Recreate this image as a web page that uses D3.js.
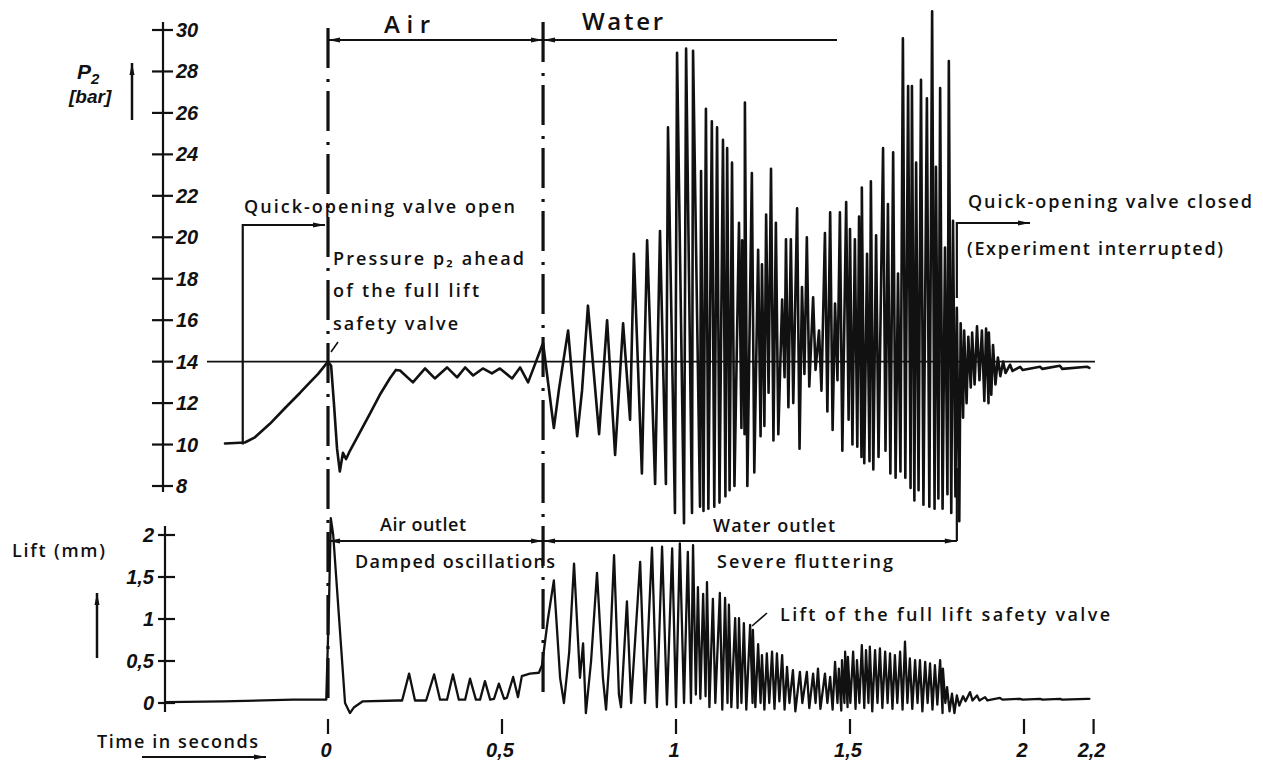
<!DOCTYPE html>
<html>
<head>
<meta charset="utf-8">
<script src="https://cdn.jsdelivr.net/npm/d3@7"></script>
<style>
  body { margin: 0; background: #fff; }
  svg { display: block; }
  .lbl { font-family: "Open Sans", "DejaVu Sans", sans-serif; font-weight: 600; font-size: 18px; fill: #111; }
  .num { font-family: "Liberation Sans", sans-serif; font-style: italic; font-weight: bold; font-size: 20px; fill: #111; }
</style>
</head>
<body>
<div id="chart"></div>
<script>
// time axis (seconds)
const timeTicks = [0, 0.5, 1, 1.5, 2, 2.2];
const timeTickLabels = ["0", "0,5", "1", "1,5", "2", "2,2"];
const pressureTicks = [8, 10, 12, 14, 16, 18, 20, 22, 24, 26, 28, 30];
const liftTicks = [0, 0.5, 1, 1.5, 2];
const liftTickLabels = ["0", "0,5", "1", "1,5", "2"];

const airStart = 0, waterStart = 0.618, waterEnd = 1.807, openTime = -0.245;
const setPressure = 14;

// pressure p2 [bar], slow part: [t, p]
const pressureLead = [
  [-0.296,10.05],[-0.239,10.1],[-0.210,10.35],[-0.167,11.0],[-0.124,11.75],[-0.080,12.5],
  [-0.052,13.0],[-0.029,13.4],[0,14.0],[0.009,13.8],[0.017,12.0],[0.026,9.8],[0.034,8.7],
  [0.043,9.6],[0.052,9.3],[0.063,9.7],[0.092,10.6],[0.121,11.5],[0.149,12.4],[0.178,13.2],
  [0.195,13.6],[0.207,13.57],[0.244,13.0],[0.279,13.67],[0.307,13.19],[0.342,13.72],
  [0.371,13.24],[0.394,13.72],[0.417,13.33],[0.445,13.67],[0.471,13.43],[0.494,13.67],
  [0.529,13.19],[0.552,13.72],[0.575,13.0],[0.618,14.9],[0.649,10.8],[0.664,12.7],
  [0.690,15.5],[0.716,10.4],[0.730,12.6],[0.747,16.7],[0.779,10.5],[0.802,16.0],[0.825,9.5],
  [0.848,15.85],[0.868,11.2],[0.879,19.2],[0.902,8.6],[0.917,19.85],[0.940,8.1],[0.954,20.3],
  [0.971,8.1],[0.977,25.3],[0.997,6.7],[1.003,28.9],[1.023,6.2],[1.029,29.1],[1.046,6.7],
  [1.049,29.0],[1.069,7.0]
];
// pressure p2, fluttering part: [t, high, low]
const pressureStrokes = [
  [1.072,23.2,6.8],[1.086,26.2,6.9],[1.103,25.6,7.0],[1.118,25.3,7.2],[1.135,24.7,7.5],
  [1.147,24.3,7.8],[1.161,23.6,8.0],[1.181,20.7,10.8],[1.190,19.85,10.5],[1.198,26.5,8.0],
  [1.218,23.1,8.65],[1.236,19.4,10.4],[1.247,18.7,10.9],[1.259,21.1,12.5],[1.273,23.3,10.2],
  [1.287,20.7,10.5],[1.305,17.0,13.25],[1.316,19.9,11.8],[1.330,19.9,12.0],[1.348,21.4,9.8],
  [1.362,17.6,13.4],[1.376,20.0,12.8],[1.394,17.1,13.6],[1.411,15.5,12.6],[1.428,20.2,11.6],
  [1.443,21.2,10.7],[1.457,16.8,13.1],[1.471,21.2,9.7],[1.489,21.7,11.2],[1.500,20.4,10.0],
  [1.514,19.9,9.9],[1.526,21.0,9.4],[1.534,22.4,9.1],[1.549,19.2,9.2],[1.560,22.7,8.8],
  [1.575,20.1,9.4],[1.595,24.3,9.7],[1.609,21.6,8.6],[1.624,24.1,8.4],[1.638,18.25,8.7],
  [1.652,29.6,8.4],[1.667,27.3,7.9],[1.678,27.3,7.3],[1.690,23.6,7.8],[1.704,27.6,7.1],
  [1.721,26.7,7.0],[1.736,30.9,6.9],[1.747,23.4,7.4],[1.759,27.2,6.9],[1.773,19.5,7.6],
  [1.784,28.5,6.7],[1.796,20.8,7.5],[1.807,16.6,6.3],[1.818,15.85,11.3],[1.828,15.5,12.0],
  [1.840,15.2,12.75],[1.851,15.4,12.9],[1.865,15.7,13.1],[1.879,15.5,12.1],[1.891,15.6,12.0],
  [1.899,15.4,12.4],[1.911,14.8,12.9],[1.925,14.2,13.3],[1.940,14.0,13.45],[1.960,13.85,13.55],
  [1.989,13.75,13.6],[2.046,13.75,13.65],[2.103,13.8,13.65],[2.181,13.75,13.7]
];

// lift [mm], slow part: [t, lift]
const liftLead = [
  [-0.468,0.01],[-0.3,0.02],[-0.1,0.04],[-0.005,0.04],[0.003,1.2],[0.008,2.2],[0.015,2.0],
  [0.049,0.0],[0.063,-0.12],[0.075,-0.05],[0.1,0.02],[0.2,0.03],[0.213,0.03],[0.233,0.35],
  [0.25,0.03],[0.282,0.03],[0.305,0.34],[0.322,0.04],[0.342,0.04],[0.359,0.34],[0.376,0.04],
  [0.394,0.04],[0.408,0.29],[0.425,0.04],[0.437,0.04],[0.451,0.26],[0.466,0.04],[0.477,0.05],
  [0.491,0.23],[0.506,0.05],[0.514,0.06],[0.532,0.31],[0.546,0.07],[0.557,0.32],[0.58,0.35],
  [0.606,0.36],[0.615,0.45],[0.632,1.0],[0.649,1.46],[0.667,0.3],[0.678,0.0],[0.693,0.6],
  [0.707,1.66],[0.724,0.3],[0.733,0.71],[0.741,-0.12],[0.756,0.5],[0.773,1.55],[0.79,0.3],
  [0.799,-0.08],[0.81,0.6],[0.822,1.76],[0.836,0.1],[0.842,-0.05],[0.859,1.21],[0.871,0.0],
  [0.897,1.68],[0.911,0.0],[0.931,1.85],[0.945,-0.05],[0.96,1.86],[0.974,-0.02],[0.989,1.84],
  [1.0,-0.05],[1.011,1.9],[1.023,0.0],[1.034,1.8],[1.043,0.0],[1.049,1.88],[1.057,0.1]
];
// lift, fluttering part: [t, high, low]
const liftStrokes = [
  [1.063,1.38,0.05],[1.078,1.3,0.08],[1.089,1.44,-0.05],[1.106,1.24,0.0],[1.126,1.31,-0.08],
  [1.141,1.25,0.0],[1.152,1.17,-0.05],[1.17,1.01,-0.06],[1.181,1.01,0.0],[1.195,0.95,-0.08],
  [1.213,0.93,0.0],[1.221,0.87,-0.05],[1.236,0.7,0.0],[1.247,0.57,-0.08],[1.261,0.59,0.0],
  [1.276,0.61,-0.07],[1.29,0.59,0.02],[1.305,0.57,-0.08],[1.319,0.43,0.0],[1.336,0.39,-0.1],
  [1.356,0.37,0.0],[1.376,0.37,-0.06],[1.394,0.35,0.0],[1.408,0.41,-0.07],[1.428,0.35,0.0],
  [1.443,0.31,-0.08],[1.457,0.49,0.0],[1.468,0.41,-0.09],[1.477,0.51,0.0],[1.486,0.61,-0.05],
  [1.494,0.55,0.0],[1.509,0.61,-0.07],[1.52,0.51,0.0],[1.534,0.69,-0.06],[1.546,0.63,0.0],
  [1.557,0.67,-0.1],[1.572,0.63,0.0],[1.586,0.65,-0.06],[1.601,0.61,0.0],[1.615,0.59,-0.07],
  [1.629,0.57,0.0],[1.644,0.61,-0.08],[1.658,0.73,0.0],[1.672,0.53,-0.07],[1.687,0.51,0.0],
  [1.701,0.51,-0.1],[1.716,0.49,0.0],[1.73,0.47,-0.08],[1.744,0.45,-0.02],[1.759,0.51,-0.12],
  [1.767,0.41,0.0],[1.779,0.19,-0.1],[1.793,0.11,-0.12],[1.807,0.09,-0.03],[1.825,0.08,0.02],
  [1.845,0.13,0.03],[1.865,0.09,0.03],[1.888,0.07,0.03],[1.931,0.06,0.04],[1.989,0.05,0.04],
  [2.046,0.05,0.04],[2.103,0.05,0.04],[2.181,0.05,0.05]
];

const W = 1263, H = 760;
const svg = d3.select("#chart").append("svg").attr("width", W).attr("height", H);
svg.append("rect").attr("width", W).attr("height", H).attr("fill", "#fff");

const defs = svg.append("defs");
defs.append("marker")
  .attr("id", "arr")
  .attr("viewBox", "0 0 12 6")
  .attr("refX", 12).attr("refY", 3)
  .attr("markerWidth", 13).attr("markerHeight", 6)
  .attr("markerUnits", "userSpaceOnUse")
  .attr("orient", "auto-start-reverse")
  .append("path").attr("d", "M0,0.5 L12,3 L0,5.5 Z").attr("fill", "#111");

const x = d3.scaleLinear().domain([0, 2]).range([328, 1024]);
const yP = d3.scaleLinear().domain([8, 30]).range([486, 30]);
const yL = d3.scaleLinear().domain([0, 2]).range([703, 535]);

const ink = "#111";

// ---- pressure axis
svg.append("line").attr("x1", 163).attr("x2", 163).attr("y1", 22).attr("y2", 492)
  .attr("stroke", ink).attr("stroke-width", 2.2);
pressureTicks.forEach(v => {
  svg.append("line").attr("x1", 152).attr("x2", 173).attr("y1", yP(v)).attr("y2", yP(v))
    .attr("stroke", ink).attr("stroke-width", 2.2);
  svg.append("text").attr("class", "num").attr("x", 176).attr("y", yP(v) + 7).text(v);
});
const p2 = svg.append("text").attr("class", "num").attr("x", 77).attr("y", 79).style("font-size", "21px");
p2.append("tspan").text("P");
p2.append("tspan").attr("dy", 5).style("font-size", "15px").text("2");
svg.append("text").attr("class", "num").attr("x", 69).attr("y", 103).style("font-size", "19px").text("[bar]");
svg.append("line").attr("x1", 132).attr("x2", 132).attr("y1", 120).attr("y2", 63)
  .attr("stroke", ink).attr("stroke-width", 2.5).attr("marker-end", "url(#arr)");

// ---- lift axis
svg.append("line").attr("x1", 165).attr("x2", 165).attr("y1", 526).attr("y2", 712)
  .attr("stroke", ink).attr("stroke-width", 2.2);
liftTicks.forEach((v, i) => {
  svg.append("line").attr("x1", 158).attr("x2", 175).attr("y1", yL(v)).attr("y2", yL(v))
    .attr("stroke", ink).attr("stroke-width", 2.2);
  svg.append("text").attr("class", "num").attr("x", 154).attr("y", yL(v) + 7)
    .attr("text-anchor", "end").text(liftTickLabels[i]);
});
svg.append("text").attr("class", "lbl").attr("x", 12).attr("y", 557)
  .attr("textLength", 93).attr("lengthAdjust", "spacing").text("Lift (mm)");
svg.append("line").attr("x1", 97).attr("x2", 97).attr("y1", 658).attr("y2", 593)
  .attr("stroke", ink).attr("stroke-width", 2.5).attr("marker-end", "url(#arr)");

// ---- time axis
timeTicks.forEach((t, i) => {
  svg.append("line").attr("x1", x(t)).attr("x2", x(t)).attr("y1", 719).attr("y2", 734)
    .attr("stroke", ink).attr("stroke-width", 2.2);
  svg.append("text").attr("class", "num").attr("x", x(t) - 2).attr("y", 757)
    .attr("text-anchor", "middle").text(timeTickLabels[i]);
});
svg.append("text").attr("class", "lbl").attr("x", 97).attr("y", 748)
  .attr("textLength", 161).attr("lengthAdjust", "spacing").text("Time in seconds");
svg.append("line").attr("x1", 142).attr("x2", 266).attr("y1", 757).attr("y2", 757)
  .attr("stroke", ink).attr("stroke-width", 2.2).attr("marker-end", "url(#arr)");

// ---- reference line at set pressure
svg.append("line").attr("x1", 207).attr("x2", 1095).attr("y1", yP(setPressure)).attr("y2", yP(setPressure))
  .attr("stroke", ink).attr("stroke-width", 1.6);

// ---- dash-dot phase lines
[[airStart, 28], [waterStart, 22]].forEach(([t, top]) => {
  svg.append("line").attr("x1", x(t)).attr("x2", x(t)).attr("y1", top).attr("y2", 702)
    .attr("stroke", ink).attr("stroke-width", 3.2)
    .attr("stroke-dasharray", "40 11 3 9");
});

// ---- traces
const line = d3.line().x(d => x(d[0])).y(d => d[1]);
const expand = (lead, strokes, ys) =>
  lead.map(d => [d[0], ys(d[1])])
    .concat(strokes.flatMap(([t, hi, lo]) => [[t, ys(hi)], [t + 0.007, ys(lo)]]));

svg.append("path").attr("d", line(expand(pressureLead, pressureStrokes, yP)))
  .attr("fill", "none").attr("stroke", ink).attr("stroke-width", 2.6)
  .attr("stroke-linejoin", "round").attr("stroke-linecap", "round");
svg.append("path").attr("d", line(expand(liftLead, liftStrokes, yL)))
  .attr("fill", "none").attr("stroke", ink).attr("stroke-width", 2.3)
  .attr("stroke-linejoin", "round").attr("stroke-linecap", "round");

// ---- Air / Water header
const hy = 40;
svg.append("line").attr("x1", x(airStart)).attr("x2", x(waterStart)).attr("y1", hy).attr("y2", hy)
  .attr("stroke", ink).attr("stroke-width", 2)
  .attr("marker-start", "url(#arr)").attr("marker-end", "url(#arr)");
svg.append("line").attr("x1", x(waterStart)).attr("x2", 837).attr("y1", hy).attr("y2", hy)
  .attr("stroke", ink).attr("stroke-width", 2).attr("marker-start", "url(#arr)");
svg.append("text").attr("class", "lbl").attr("x", 384).attr("y", 33).style("font-size", "24px")
  .attr("textLength", 46).attr("lengthAdjust", "spacing").text("Air");
svg.append("text").attr("class", "lbl").attr("x", 582).attr("y", 30).style("font-size", "24px")
  .attr("textLength", 81).attr("lengthAdjust", "spacing").text("Water");

// ---- quick-opening valve open
svg.append("text").attr("class", "lbl").attr("x", 244).attr("y", 213)
  .attr("textLength", 271).attr("lengthAdjust", "spacing").text("Quick-opening valve open");
svg.append("path")
  .attr("d", `M${x(openTime)},${yP(10)} V225 H${x(airStart) - 3}`)
  .attr("fill", "none").attr("stroke", ink).attr("stroke-width", 2.2).attr("marker-end", "url(#arr)");

svg.append("text").attr("class", "lbl").attr("x", 333).attr("y", 265)
  .attr("textLength", 191).attr("lengthAdjust", "spacing").text("Pressure p\u2082 ahead");
svg.append("text").attr("class", "lbl").attr("x", 333).attr("y", 297)
  .attr("textLength", 146).attr("lengthAdjust", "spacing").text("of the full lift");
svg.append("text").attr("class", "lbl").attr("x", 333).attr("y", 330)
  .attr("textLength", 125).attr("lengthAdjust", "spacing").text("safety valve");
svg.append("line").attr("x1", 331).attr("x2", 338).attr("y1", 352).attr("y2", 342)
  .attr("stroke", ink).attr("stroke-width", 1.6);

// ---- quick-opening valve closed
svg.append("text").attr("class", "lbl").attr("x", 968).attr("y", 208)
  .attr("textLength", 284).attr("lengthAdjust", "spacing").text("Quick-opening valve closed");
svg.append("text").attr("class", "lbl").attr("x", 967).attr("y", 255)
  .attr("textLength", 256).attr("lengthAdjust", "spacing").text("(Experiment interrupted)");
svg.append("path")
  .attr("d", `M${x(waterEnd)},298 V223 H1030`)
  .attr("fill", "none").attr("stroke", ink).attr("stroke-width", 2.2).attr("marker-end", "url(#arr)");

// ---- outlet brackets
const by = 541;
svg.append("line").attr("x1", x(airStart)).attr("x2", x(waterStart)).attr("y1", by).attr("y2", by)
  .attr("stroke", ink).attr("stroke-width", 2)
  .attr("marker-start", "url(#arr)").attr("marker-end", "url(#arr)");
svg.append("line").attr("x1", x(waterStart)).attr("x2", x(waterEnd)).attr("y1", by).attr("y2", by)
  .attr("stroke", ink).attr("stroke-width", 2)
  .attr("marker-start", "url(#arr)").attr("marker-end", "url(#arr)");
svg.append("line").attr("x1", x(waterEnd)).attr("x2", x(waterEnd)).attr("y1", by).attr("y2", 468)
  .attr("stroke", ink).attr("stroke-width", 2.2);

svg.append("text").attr("class", "lbl").attr("x", 380).attr("y", 531)
  .attr("textLength", 86).attr("lengthAdjust", "spacing").text("Air outlet");
svg.append("text").attr("class", "lbl").attr("x", 713).attr("y", 532)
  .attr("textLength", 122).attr("lengthAdjust", "spacing").text("Water outlet");
svg.append("text").attr("class", "lbl").attr("x", 355).attr("y", 568)
  .attr("textLength", 200).attr("lengthAdjust", "spacing").text("Damped oscillations");
svg.append("text").attr("class", "lbl").attr("x", 717).attr("y", 568)
  .attr("textLength", 176).attr("lengthAdjust", "spacing").text("Severe fluttering");
svg.append("text").attr("class", "lbl").attr("x", 780).attr("y", 621)
  .attr("textLength", 330).attr("lengthAdjust", "spacing").text("Lift of the full lift safety valve");
svg.append("line").attr("x1", 752).attr("x2", 767).attr("y1", 626).attr("y2", 613)
  .attr("stroke", ink).attr("stroke-width", 1.6);
</script>
</body>
</html>
